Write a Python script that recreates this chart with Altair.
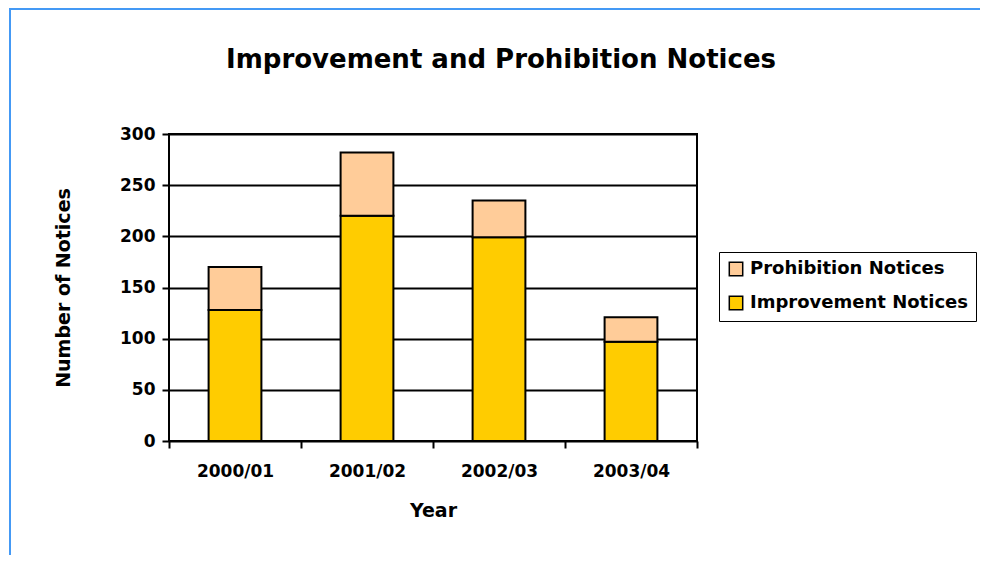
import altair as alt
import pandas as pd

years = ["2000/01", "2001/02", "2002/03", "2003/04"]
improvement = [128, 220, 199, 97]
prohibition = [42, 62, 36, 24]
series = ["Prohibition Notices", "Improvement Notices"]
colors = ["#FFCC99", "#FFCC00"]

rows = []
for i, y in enumerate(years):
    rows.append({"Year": y, "Series": "Improvement Notices", "Value": improvement[i], "ord": 0})
    rows.append({"Year": y, "Series": "Prohibition Notices", "Value": prohibition[i], "ord": 1})
df = pd.DataFrame(rows)

FONT = "DejaVu Sans"
W, H = 528, 307
PL, PT = 161, 126

frame = alt.Chart(pd.DataFrame({"a": [0]})).mark_rect(
    fill="white", fillOpacity=0, stroke="#4499F5", strokeWidth=2
).encode(
    x=alt.value(-PL + 2), x2=alt.value(W + 400),
    y=alt.value(-PT + 1), y2=alt.value(H + 300)
)

bars = alt.Chart(df).mark_bar(
    width=alt.RelativeBandSize(0.4), stroke="black", strokeWidth=2
).encode(
    x=alt.X("Year:N", sort=years,
            scale=alt.Scale(paddingInner=0, paddingOuter=0),
            axis=alt.Axis(title="Year", labelAngle=0, tickBand="extent",
                          tickSize=7, tickWidth=2, tickColor="black",
                          domain=False, labelPadding=15,
                          labelFontSize=17, labelFont=FONT, labelFontWeight="bold",
                          labelColor="black", titleFontSize=19, titleFont=FONT,
                          titleFontWeight="bold", titleColor="black", titlePadding=22)),
    y=alt.Y("Value:Q", stack="zero",
            scale=alt.Scale(domain=[0, 300], nice=False),
            axis=alt.Axis(title="Number of Notices", values=[0, 50, 100, 150, 200, 250, 300],
                          grid=True, gridColor="black", gridWidth=2, gridOpacity=1,
                          tickSize=7, tickWidth=2, tickColor="black",
                          domain=False, labelPadding=7,
                          labelFontSize=17, labelFont=FONT, labelFontWeight="bold",
                          labelColor="black", titleFontSize=19, titleFont=FONT,
                          titleFontWeight="bold", titleColor="black", titlePadding=46)),
    color=alt.Color("Series:N",
                    scale=alt.Scale(domain=series, range=colors),
                    legend=alt.Legend(title=None, orient="none", legendX=W + 22, legendY=118,
                                      symbolType="square", symbolSize=180,
                                      symbolStrokeColor="black", symbolStrokeWidth=1.5,
                                      labelFont=FONT, labelFontSize=18, labelFontWeight="bold",
                                      labelColor="black", labelOffset=5, rowPadding=14,
                                      padding=8, strokeColor="black", fillColor="white",
                                      labelLimit=400)),
    order=alt.Order("ord:Q", sort="ascending"),
)

chart = alt.layer(frame, bars).properties(
    width=W, height=H,
    autosize=alt.AutoSizeParams(type="none"),
    padding={"left": PL, "top": PT, "right": 972 - PL - W, "bottom": 114},
    title=alt.Title("Improvement and Prohibition Notices", font=FONT, fontSize=26,
                    fontWeight="bold", color="black", anchor="middle", dx=68,
                    baseline="alphabetic", offset=-86),
).configure_view(stroke="black", strokeWidth=2)

chart.save("out.html", embed_options={"renderer": "svg", "actions": False})
